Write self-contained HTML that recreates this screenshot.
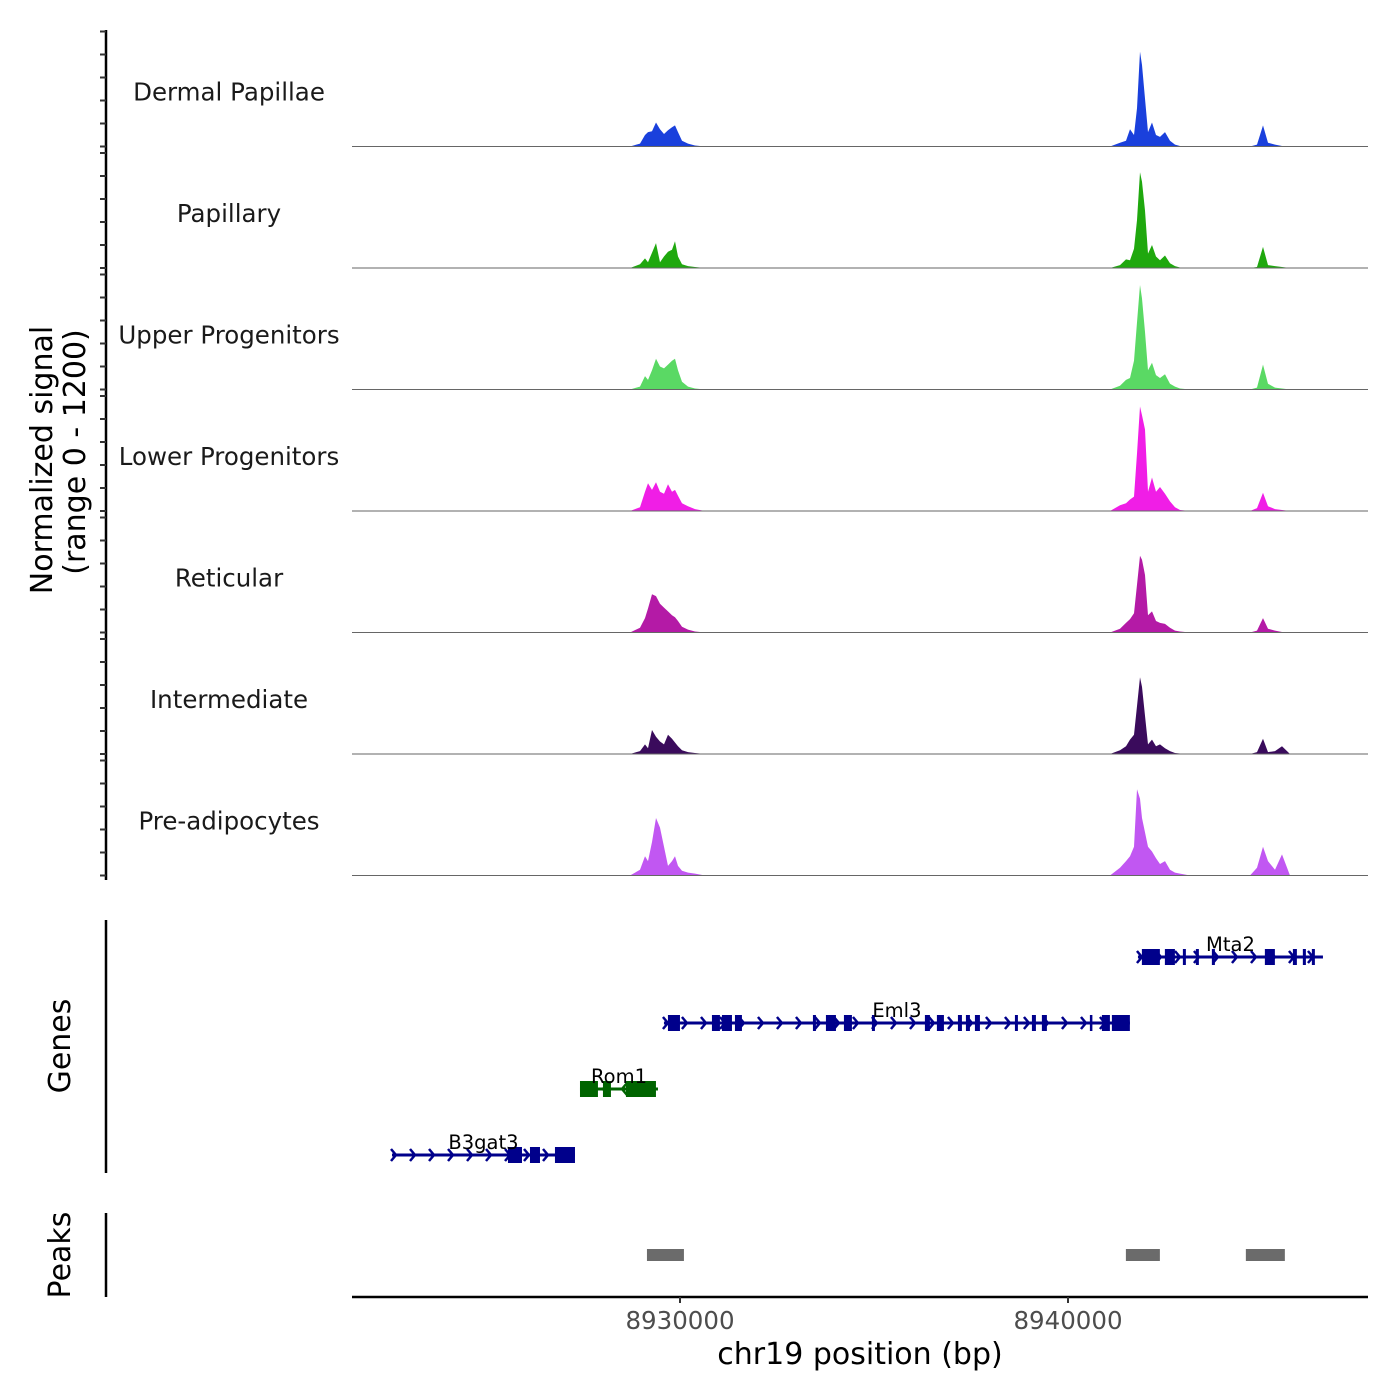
<!DOCTYPE html>
<html><head><meta charset="utf-8"><style>
html,body{margin:0;padding:0;background:#fff}
svg{display:block;font-family:"DejaVu Sans","Liberation Sans",sans-serif}
</style></head><body>
<svg id="chart" width="1400" height="1400" viewBox="0 0 1400 1400" xmlns="http://www.w3.org/2000/svg">
<rect width="1400" height="1400" fill="#fff"/>
<g id="tracks"></g>
<g id="genes"></g>
<g id="peaks"></g>
<g id="axes"></g>
</svg>
<script>
const trackNames = ["Dermal Papillae","Papillary","Upper Progenitors","Lower Progenitors","Reticular","Intermediate","Pre-adipocytes"];
const trackColors = ["#1a40dc","#1fa80e","#5ad964","#f01ee6","#b41aa6","#3a0b5c","#c157f2"];
const positions = [8928711,8928969,8929098,8929175,8929278,8929381,8929485,8929588,8929691,8929794,8929871,8929948,8930051,8930206,8930386,8930644,
 8941082,8941340,8941495,8941598,8941701,8941778,8941856,8941907,8941985,8942062,8942165,8942268,8942371,8942500,8942629,8942758,8942887,8943144,
 8944690,8944871,8945025,8945154,8945335,8945515,8945721];
const dermalValues = [0,30,120,150,160,250,180,130,170,200,220,150,60,30,10,0, 0,40,60,180,120,400,990,850,500,150,250,120,100,150,60,20,5,0, 0,20,220,40,20,5,0];
const papillaryValues = [0,40,100,60,160,260,60,120,170,190,280,120,40,20,10,0, 0,30,90,80,200,500,1000,900,600,150,240,120,80,130,50,20,5,0, 0,10,220,30,20,10,0];
const upperValues = [0,30,140,100,200,320,240,220,260,300,320,200,80,30,10,0, 0,40,100,120,300,700,1090,950,600,200,280,150,120,160,60,30,10,0, 0,20,260,60,20,10,0];
const lowerValues = [0,40,200,290,220,300,200,180,280,200,220,160,80,50,20,0, 0,60,80,120,150,600,1090,1000,850,200,350,200,250,180,100,40,10,0, 0,30,190,50,20,10,0];
const reticularValues = [0,50,150,250,400,380,300,260,220,180,160,120,60,30,10,0, 0,40,100,140,200,500,800,760,600,180,220,120,100,90,50,20,10,0, 0,20,150,40,20,5,0];
const intermediateValues = [0,30,100,60,250,180,130,100,200,160,120,80,40,20,10,0, 0,40,80,150,200,500,800,700,400,100,150,80,100,60,30,10,5,0, 0,20,160,20,30,80,0];
const preadipoValues = [0,60,200,150,350,600,500,300,100,150,200,100,50,30,20,0, 0,80,150,200,300,900,800,600,450,300,250,180,120,150,60,30,20,0, 0,80,300,150,60,220,0];
const seriesValues = [dermalValues,papillaryValues,upperValues,lowerValues,reticularValues,intermediateValues,preadipoValues];
const xTicks = [8930000,8940000];
const xTickLabels = ["8930000","8940000"];
const yMax = 1200;
const genes = ["Mta2","Eml3","Rom1","B3gat3"];
const geneStarts = [8941803,8929586,8927422,8922577];
const geneEnds = [8946571,8941595,8929432,8927293];
const geneStrands = [1,1,-1,1];
const geneColors = ["#00008b","#00008b","#006400","#00008b"];
const geneExons = [
 [[8941904,8942368],[8942497,8942755],[8942961,8943038],[8943296,8943373],[8943708,8943786],[8945074,8945332],[8945796,8945899],[8946053,8946131],[8946285,8946363]],
 [[8929689,8929999],[8930823,8931029],[8931081,8931339],[8931416,8931596],[8933426,8933503],[8933761,8934019],[8934225,8934431],[8934946,8935024],[8936312,8936441],[8936621,8936802],[8937163,8937266],[8937369,8937472],[8937601,8937730],[8938632,8938709],[8939070,8939173],[8939327,8939456],[8940564,8940616],[8940874,8941080],[8941131,8941595]],
 [[8927422,8927885],[8928014,8928220],[8928607,8929380]],
 [[8925566,8925927],[8926133,8926391],[8926777,8927293]]
];
const peakStarts = [8929148,8941492,8944584];
const peakEnds = [8930101,8942368,8945589];

const NS="http://www.w3.org/2000/svg";
const domainStart=8921546, domainEnd=8947732, px0=352, px1=1368;
function X(bp){return px0+(bp-domainStart)/(domainEnd-domainStart)*(px1-px0);}
const trackTop=25, trackH=121.5, trackPx=115;
function Y(i,v){const base=trackTop+(i+1)*trackH; return base - v/yMax*trackPx;}
function el(tag,attrs,parent){const e=document.createElementNS(NS,tag);for(const k in attrs)e.setAttribute(k,attrs[k]);parent.appendChild(e);return e;}

const tg=document.getElementById('tracks');
seriesValues.forEach((vals,i)=>{
  const base=trackTop+(i+1)*trackH;
  let pts=[[X(domainStart),base]];
  positions.forEach((p,j)=>pts.push([X(p),Y(i,vals[j])]));
  pts.push([X(domainEnd),base]);
  const poly=el('polygon',{points:pts.map(q=>q[0].toFixed(1)+','+q[1].toFixed(1)).join(' '),fill:trackColors[i]},tg);
  
  
  const ln=el('line',{x1:px0,x2:px1,y1:base,y2:base,stroke:'#666',"stroke-width":1},tg);
  
  
  const t=el('text',{x:229,y:base-46,"text-anchor":"middle","font-size":24.5,fill:'#1a1a1a'},tg);
  t.textContent=trackNames[i];
  
  
});

const ax=document.getElementById('axes');
el('line',{x1:106,x2:106,y1:30,y2:880,stroke:'#000',"stroke-width":2.5},ax);
for(let i=0;i<7;i++){
  const base=trackTop+(i+1)*trackH;
  for(let k=0;k<=5;k++){
    const y=base-k*23;
    el('line',{x1:100,x2:106,y1:y,y2:y,stroke:'#333',"stroke-width":2},ax);
  }
}
const yt=el('text',{transform:'translate(52,460) rotate(-90)',"text-anchor":"middle","font-size":30,fill:'#000'},ax);
yt.textContent='Normalized signal';


const yt2=el('text',{transform:'translate(85,452) rotate(-90)',"text-anchor":"middle","font-size":30,fill:'#000'},ax);
yt2.textContent='(range 0 - 1200)';


el('line',{x1:106,x2:106,y1:920,y2:1173,stroke:'#000',"stroke-width":2.5},ax);
const gt=el('text',{transform:'translate(70,1046) rotate(-90)',"text-anchor":"middle","font-size":30,fill:'#000'},ax);
gt.textContent='Genes';


el('line',{x1:106,x2:106,y1:1213,y2:1297,stroke:'#000',"stroke-width":2.5},ax);
const pt=el('text',{transform:'translate(70,1255) rotate(-90)',"text-anchor":"middle","font-size":30,fill:'#000'},ax);
pt.textContent='Peaks';


el('line',{x1:px0,x2:px1,y1:1297,y2:1297,stroke:'#000',"stroke-width":2.5},ax);
xTicks.forEach((v,i)=>{
  el('line',{x1:X(v),x2:X(v),y1:1297,y2:1303,stroke:'#333',"stroke-width":2},ax);
  const t=el('text',{x:X(v),y:1329,"text-anchor":"middle","font-size":24.5,fill:'#4d4d4d'},ax);
  t.textContent=xTickLabels[i];
  
  
});
const xt=el('text',{x:860,y:1364,"text-anchor":"middle","font-size":30,fill:'#000'},ax);
xt.textContent='chr19 position (bp)';



const gg=document.getElementById('genes');
const rowY=[957,1023,1089,1155];
genes.forEach((g,i)=>{
  const y=rowY[i], c=geneColors[i];
  const grp=el('g',{},gg);
  
  
  const x1=X(geneStarts[i]), x2=X(geneEnds[i]);
  el('line',{x1:x1,x2:x2,y1:y,y2:y,stroke:c,"stroke-width":3},grp);
  for(let x=x1+4;x<=x2;x+=19){
    const d=geneStrands[i]*5;
    el('polyline',{points:`${x-d},${y-6} ${x},${y} ${x-d},${y+6}`,fill:'none',stroke:c,"stroke-width":2.5},grp);
  }
  geneExons[i].forEach(ex=>{
    const a=X(ex[0]), b=X(ex[1]);
    el('rect',{x:a,y:y-8,width:Math.max(b-a,2.5),height:16,fill:c},grp);
  });
  const t=el('text',{x:(x1+x2)/2,y:y-6,"text-anchor":"middle","font-size":19.5,fill:'#000'},grp);
  t.textContent=g;
  
  
});

const pg=document.getElementById('peaks');
peakStarts.forEach((s,i)=>{
  const r=el('rect',{x:X(s),y:1249,width:X(peakEnds[i])-X(s),height:12,fill:'#6b6b6b'},pg);
  
  
});
</script>
</body></html>
